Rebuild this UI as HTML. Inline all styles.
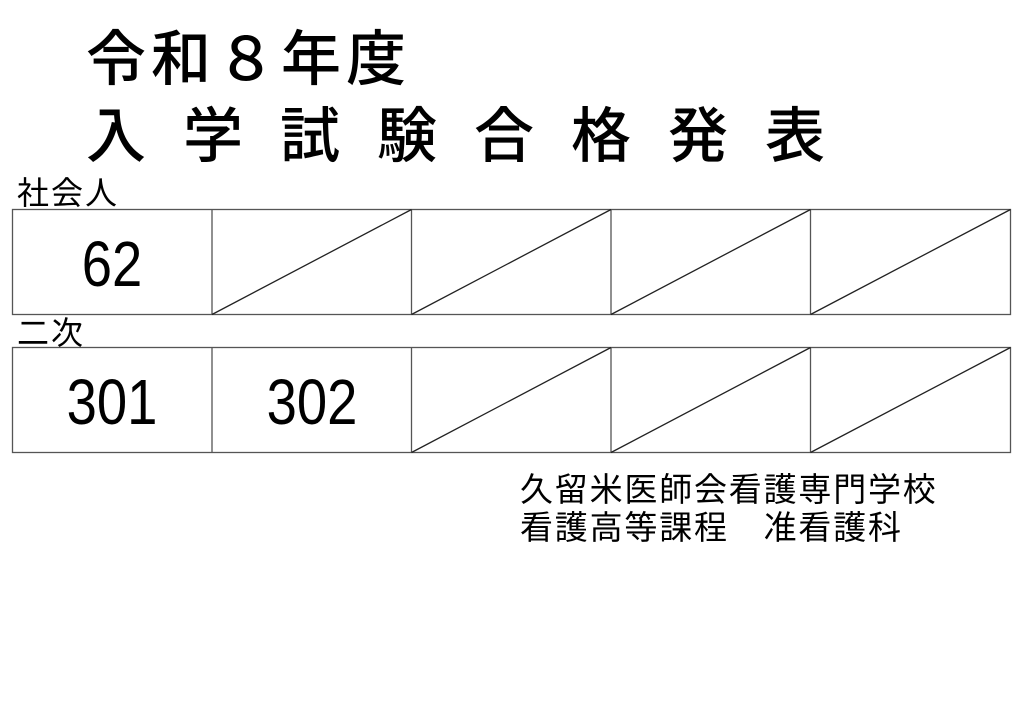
<!DOCTYPE html>
<html><head><meta charset="utf-8"><style>
body{margin:0;width:1024px;height:724px;background:#fff;position:relative;overflow:hidden;font-family:"Liberation Sans","Noto Sans CJK JP",sans-serif;color:#000}
.t{position:absolute;white-space:nowrap;font-family:"Noto Sans CJK JP",sans-serif}
.num{position:absolute;font-family:"Liberation Sans",sans-serif;font-size:64px;line-height:62px;transform:scaleX(0.85);transform-origin:center;text-align:center;width:200px}
</style></head><body>
<div class="t" style="left:86px;top:22px;font-size:60px;line-height:66px;letter-spacing:5px;font-weight:500">令和８年度</div>
<div class="t" style="left:86px;top:99px;font-size:60px;line-height:66px;letter-spacing:37px;font-weight:500">入学試験合格発表</div>
<div class="t" style="left:17px;top:173px;font-size:32px;line-height:36px;letter-spacing:2px">社会人</div>
<div class="t" style="left:17px;top:313px;font-size:32px;line-height:36px;letter-spacing:2px">二次</div>
<svg width="1024" height="724" style="position:absolute;left:0;top:0" stroke="#555" stroke-width="1.3" fill="none">
<rect x="12.5" y="209.5" width="998" height="105"/>
<line x1="212" y1="209.5" x2="212" y2="314.5"/><line x1="411.5" y1="209.5" x2="411.5" y2="314.5"/><line x1="611" y1="209.5" x2="611" y2="314.5"/><line x1="810.5" y1="209.5" x2="810.5" y2="314.5"/>
<g stroke="#222"><line x1="212" y1="314.5" x2="411.5" y2="209.5"/><line x1="411.5" y1="314.5" x2="611" y2="209.5"/><line x1="611" y1="314.5" x2="810.5" y2="209.5"/><line x1="810.5" y1="314.5" x2="1010.5" y2="209.5"/></g>
<rect x="12.5" y="347.5" width="998" height="105"/>
<line x1="212" y1="347.5" x2="212" y2="452.5"/><line x1="411.5" y1="347.5" x2="411.5" y2="452.5"/><line x1="611" y1="347.5" x2="611" y2="452.5"/><line x1="810.5" y1="347.5" x2="810.5" y2="452.5"/>
<g stroke="#222"><line x1="411.5" y1="452.5" x2="611" y2="347.5"/><line x1="611" y1="452.5" x2="810.5" y2="347.5"/><line x1="810.5" y1="452.5" x2="1010.5" y2="347.5"/></g>
</svg>
<div class="num" style="left:12px;top:233px">62</div>
<div class="num" style="left:12px;top:371px">301</div>
<div class="num" style="left:212px;top:371px">302</div>
<div class="t" style="left:520px;top:468px;font-size:33px;line-height:38px;letter-spacing:1.8px">久留米医師会看護専門学校</div>
<div class="t" style="left:520px;top:506px;font-size:33px;line-height:38px;letter-spacing:1.8px">看護高等課程　准看護科</div>
</body></html>
